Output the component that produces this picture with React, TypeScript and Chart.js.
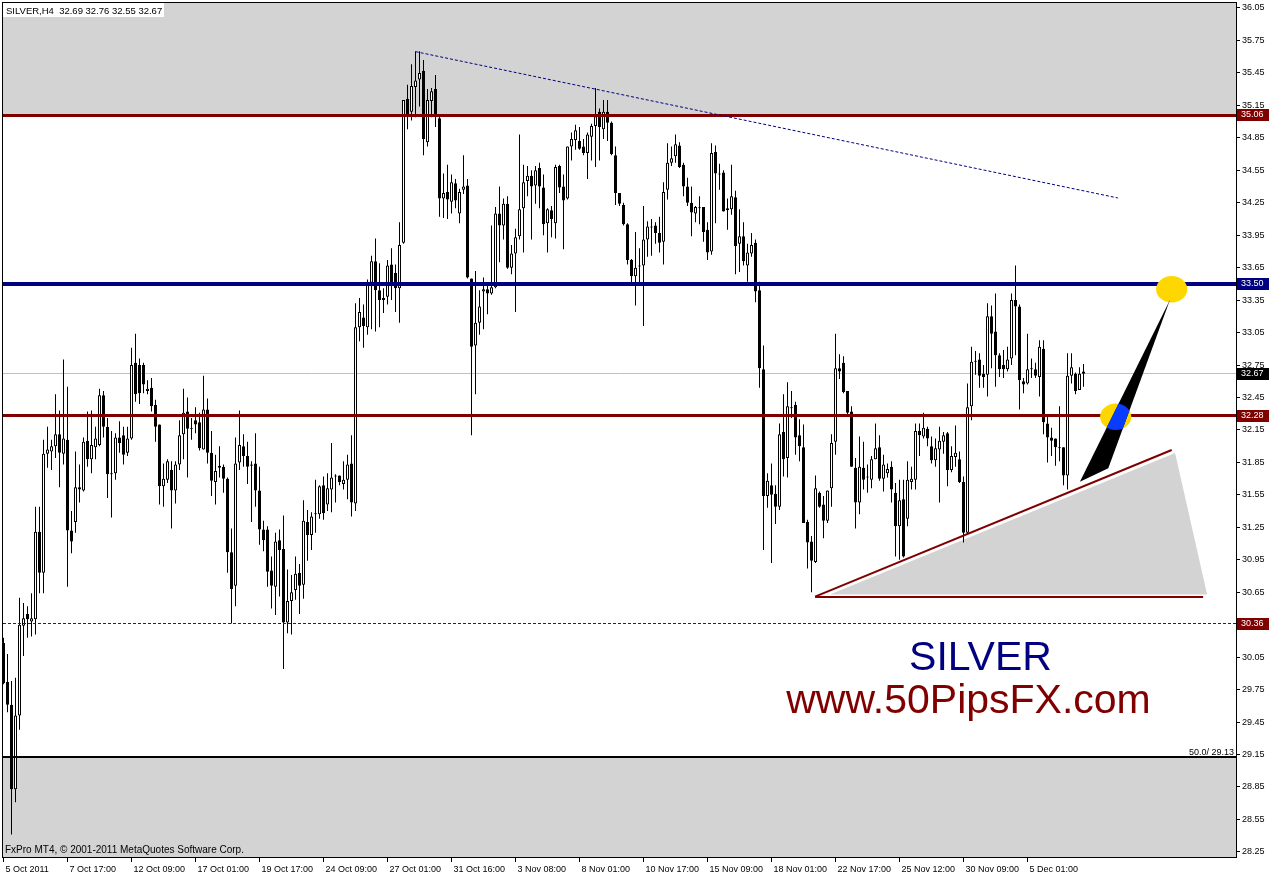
import React, { useEffect, useRef } from 'react';
import { Chart, registerables } from 'chart.js';

Chart.register(...registerables);

// ---- SILVER H4 candles ----
const opens = [
  30.18, 29.82, 29.61, 28.83, 29.51, 30.34, 30.45, 30.38, 30.40, 31.21,
  30.83, 31.93, 31.95, 32.00, 32.11, 31.93, 32.06, 31.22, 31.30, 31.62,
  31.59, 32.05, 31.88, 31.99, 32.01, 32.47, 32.18, 31.74, 31.75, 32.08,
  32.10, 31.94, 32.07, 32.77, 32.75, 32.75, 32.51, 32.54, 32.38, 32.20,
  31.63, 31.69, 31.78, 31.59, 31.83, 32.11, 32.32, 32.17, 32.24, 32.22,
  31.97, 32.34, 31.94, 31.67, 31.80, 31.81, 31.70, 31.02, 30.71, 31.85,
  32.00, 31.91, 31.83, 31.84, 31.59, 31.23, 31.23, 30.85, 30.70, 31.13,
  31.05, 30.37, 30.57, 30.67, 30.83, 30.72, 31.30, 31.18, 31.37, 31.37,
  31.64, 31.46, 31.60, 31.72, 31.73, 31.65, 31.69, 31.84, 31.47, 33.10,
  33.19, 33.10, 33.51, 33.71, 33.44, 33.35, 33.38, 33.68, 33.60, 33.46,
  33.88, 35.21, 35.09, 35.32, 35.39, 35.47, 34.81, 35.19, 35.30, 35.03,
  34.29, 34.35, 34.26, 34.43, 34.15, 34.37, 34.41, 33.55, 32.93, 33.14,
  33.43, 33.45, 33.41, 33.47, 34.15, 34.04, 34.24, 33.65, 33.78, 33.94,
  34.20, 34.45, 34.50, 34.41, 34.57, 34.39, 34.06, 34.18, 34.06, 34.59,
  34.40, 34.29, 34.77, 34.83, 34.82, 34.77, 34.71, 34.86, 34.96, 35.09,
  34.93, 35.09, 34.99, 34.69, 34.34, 34.23, 34.05, 33.72, 33.57, 33.67,
  33.67, 33.91, 34.02, 34.04, 33.97, 33.89, 34.37, 34.62, 34.68, 34.78,
  34.60, 34.40, 34.25, 34.15, 34.20, 34.21, 34.00, 33.80, 34.72, 34.51,
  34.53, 34.18, 34.19, 34.30, 33.87, 33.94, 33.67, 33.78, 33.88, 33.44,
  32.71, 31.54, 31.64, 31.56, 31.44, 32.13, 31.89, 32.35, 32.38, 32.10,
  31.99, 31.30, 31.12, 30.93, 31.57, 31.46, 31.31, 31.61, 32.04, 32.72,
  32.77, 32.51, 32.32, 31.80, 31.48, 31.80, 31.71, 31.69, 31.88, 31.99,
  31.70, 31.75, 31.81, 31.57, 31.26, 31.51, 31.33, 31.67, 31.69, 32.14,
  32.09, 32.16, 32.00, 31.87, 31.97, 32.04, 32.12, 31.78, 31.90, 31.88,
  31.67, 31.20, 32.37, 32.78, 32.80, 32.67, 32.66, 33.20, 33.06, 32.84,
  32.75, 32.71, 32.81, 33.35, 33.29, 32.60, 32.58, 32.71, 32.71, 32.64,
  32.90, 32.21, 32.08, 32.07, 31.98, 31.99, 31.73, 32.65, 32.67, 32.52,
  32.69,
];

const highs = [
  30.23, 30.08, 29.83, 29.86, 30.60, 30.55, 30.52, 30.64, 31.44, 31.44,
  32.06, 32.18, 32.06, 32.48, 32.33, 32.80, 32.55, 31.40, 31.95, 31.83,
  32.08, 32.32, 32.33, 32.18, 32.53, 32.51, 32.26, 32.14, 32.12, 32.23,
  32.18, 32.18, 32.91, 33.04, 32.81, 32.77, 32.61, 32.63, 32.43, 32.20,
  31.84, 31.88, 31.86, 31.86, 32.24, 32.53, 32.45, 32.26, 32.36, 32.31,
  32.65, 32.44, 32.14, 31.92, 32.00, 31.83, 31.71, 31.24, 32.08, 32.33,
  32.11, 32.04, 31.86, 32.12, 31.81, 31.31, 31.26, 30.98, 31.20, 31.23,
  31.36, 30.86, 30.81, 30.98, 30.91, 31.50, 31.41, 31.39, 31.69, 31.64,
  31.72, 31.75, 32.03, 31.74, 31.73, 31.86, 31.92, 32.10, 33.32, 33.37,
  33.31, 33.54, 33.76, 33.92, 33.69, 33.46, 33.72, 33.83, 33.68, 34.07,
  35.20, 35.34, 35.53, 35.65, 35.65, 35.57, 35.30, 35.31, 35.43, 35.07,
  34.52, 34.60, 34.51, 34.47, 34.38, 34.69, 34.47, 33.55, 33.62, 33.44,
  33.56, 33.48, 34.04, 34.21, 34.40, 34.29, 34.31, 33.86, 34.01, 34.88,
  34.60, 34.59, 34.55, 34.59, 34.62, 34.51, 34.20, 34.22, 34.60, 34.60,
  34.51, 34.77, 34.90, 34.97, 34.95, 34.84, 34.90, 34.98, 35.31, 35.12,
  35.20, 35.20, 35.00, 34.77, 34.34, 34.25, 34.06, 33.73, 33.98, 33.83,
  34.22, 34.08, 34.10, 34.07, 34.12, 34.44, 34.80, 34.77, 34.88, 34.81,
  34.62, 34.48, 34.40, 34.22, 34.31, 34.21, 34.07, 34.80, 34.78, 34.61,
  34.55, 34.29, 34.60, 34.36, 34.19, 34.07, 33.87, 33.97, 33.91, 33.52,
  32.93, 31.75, 31.84, 31.64, 32.21, 32.48, 32.59, 32.51, 32.41, 32.25,
  32.20, 31.32, 31.17, 31.73, 31.58, 31.54, 31.59, 32.11, 33.04, 32.85,
  32.83, 32.51, 32.37, 31.89, 32.09, 32.04, 31.83, 31.91, 32.21, 32.10,
  31.92, 31.84, 31.86, 31.66, 31.69, 31.69, 31.86, 31.81, 32.21, 32.21,
  32.31, 32.18, 32.09, 32.07, 32.18, 32.13, 32.13, 32.00, 32.19, 31.95,
  31.72, 32.58, 32.92, 32.88, 32.86, 32.75, 33.32, 33.30, 33.41, 32.86,
  32.89, 32.92, 33.41, 33.67, 33.31, 32.63, 33.04, 32.81, 32.77, 32.98,
  32.98, 32.27, 32.17, 32.07, 32.37, 31.99, 32.86, 32.86, 32.68, 32.73,
  32.76,
];

const lows = [
  29.80, 29.54, 28.41, 28.71, 29.38, 30.06, 30.23, 30.24, 30.26, 30.64,
  30.64, 31.80, 31.78, 31.89, 31.62, 31.83, 30.70, 31.01, 31.20, 31.48,
  31.58, 31.81, 31.75, 31.88, 32.00, 32.08, 31.52, 31.34, 31.69, 31.94,
  31.83, 31.91, 32.06, 32.41, 32.39, 32.49, 32.48, 32.32, 32.04, 31.46,
  31.44, 31.66, 31.24, 31.47, 31.78, 31.88, 31.71, 32.06, 32.12, 31.96,
  31.97, 31.84, 31.54, 31.46, 31.71, 31.57, 30.83, 30.36, 30.52, 31.78,
  31.81, 31.65, 31.30, 31.44, 31.09, 31.03, 30.70, 30.50, 30.44, 30.61,
  29.94, 30.27, 30.26, 30.58, 30.45, 30.59, 30.94, 31.04, 31.20, 31.33,
  31.32, 31.40, 31.39, 31.48, 31.64, 31.60, 31.51, 31.35, 31.40, 32.97,
  32.91, 33.03, 33.08, 33.06, 33.10, 33.23, 33.31, 33.35, 33.24, 33.14,
  33.87, 34.93, 35.01, 35.04, 35.14, 34.69, 34.77, 35.04, 34.95, 34.12,
  34.11, 34.10, 34.15, 34.20, 34.06, 34.33, 33.55, 32.10, 32.48, 33.03,
  33.08, 33.22, 33.40, 33.46, 33.70, 33.91, 33.64, 33.59, 33.24, 33.91,
  33.79, 34.31, 33.91, 34.24, 34.20, 33.95, 33.79, 33.93, 33.92, 34.34,
  33.82, 34.28, 34.64, 34.74, 34.74, 34.69, 34.47, 34.64, 34.58, 34.64,
  34.84, 34.82, 34.69, 34.23, 34.22, 34.04, 33.68, 33.48, 33.30, 33.51,
  33.11, 33.75, 33.76, 33.87, 33.79, 33.68, 34.28, 34.59, 34.62, 34.57,
  34.31, 34.22, 33.94, 34.07, 34.05, 33.89, 33.72, 33.77, 34.06, 34.37,
  34.17, 34.00, 34.14, 33.59, 33.61, 33.67, 33.52, 33.75, 33.33, 32.54,
  31.04, 31.43, 30.92, 31.28, 31.41, 31.72, 31.71, 32.26, 31.92, 31.86,
  31.29, 30.87, 30.65, 30.92, 31.43, 31.15, 31.29, 31.44, 31.92, 32.62,
  32.49, 32.29, 31.81, 31.24, 31.37, 31.60, 31.57, 31.61, 31.88, 31.68,
  31.58, 31.71, 31.48, 30.98, 30.95, 30.97, 31.26, 31.60, 31.60, 31.91,
  32.07, 32.00, 31.84, 31.81, 31.48, 31.93, 31.63, 31.76, 31.81, 31.66,
  31.11, 31.18, 32.24, 32.66, 32.54, 32.54, 32.46, 32.72, 32.55, 32.64,
  32.63, 32.69, 32.75, 32.84, 32.34, 32.49, 32.57, 32.63, 32.63, 32.46,
  32.11, 31.85, 31.91, 31.82, 31.86, 31.64, 31.60, 32.58, 32.48, 32.52,
  32.55,
];

const closes = [
  29.81, 29.61, 28.83, 29.51, 30.35, 30.41, 30.40, 30.41, 31.21, 30.83,
  31.93, 31.97, 32.00, 32.11, 31.94, 32.07, 31.22, 31.12, 31.62, 31.60,
  32.04, 31.88, 32.01, 32.07, 32.47, 32.18, 31.74, 31.75, 32.08, 32.03,
  31.92, 32.07, 32.75, 32.48, 32.49, 32.57, 32.53, 32.37, 32.18, 31.63,
  31.70, 31.86, 31.59, 31.83, 32.10, 32.31, 32.16, 32.16, 32.20, 31.98,
  32.34, 31.94, 31.68, 31.77, 31.82, 31.70, 31.02, 30.68, 31.84, 32.01,
  31.91, 31.81, 31.82, 31.59, 31.23, 31.13, 30.84, 30.71, 31.12, 31.04,
  30.37, 30.57, 30.65, 30.82, 30.71, 31.31, 31.18, 31.35, 31.38, 31.63,
  31.38, 31.61, 31.71, 31.72, 31.67, 31.69, 31.83, 31.48, 33.10, 33.24,
  33.11, 33.51, 33.71, 33.44, 33.35, 33.37, 33.67, 33.50, 33.46, 33.86,
  35.20, 35.07, 35.33, 35.38, 35.45, 34.84, 35.20, 35.28, 35.07, 34.29,
  34.34, 34.28, 34.44, 34.27, 34.35, 34.40, 33.56, 32.92, 33.14, 33.29,
  33.45, 33.41, 33.47, 34.15, 34.04, 34.24, 33.65, 33.78, 33.93, 34.19,
  34.44, 34.50, 34.40, 34.55, 34.40, 34.05, 34.19, 34.10, 34.58, 34.39,
  34.27, 34.77, 34.84, 34.92, 34.75, 34.71, 34.88, 34.96, 35.05, 34.95,
  35.09, 34.99, 34.70, 34.34, 34.24, 34.05, 33.72, 33.57, 33.65, 33.66,
  33.91, 34.03, 34.03, 33.97, 33.88, 34.35, 34.62, 34.66, 34.79, 34.58,
  34.40, 34.25, 34.16, 34.21, 34.20, 33.98, 33.79, 34.71, 34.52, 34.51,
  34.17, 34.20, 34.31, 33.85, 33.94, 33.71, 33.79, 33.86, 33.43, 32.72,
  31.54, 31.68, 31.55, 31.44, 32.11, 31.88, 32.37, 32.35, 32.08, 32.00,
  31.29, 31.11, 30.94, 31.61, 31.44, 31.31, 31.59, 32.03, 32.72, 32.69,
  32.50, 32.31, 31.81, 31.48, 31.81, 31.69, 31.71, 31.88, 31.98, 31.70,
  31.83, 31.79, 31.60, 31.26, 31.50, 30.98, 31.69, 31.70, 32.14, 32.10,
  32.17, 32.07, 31.87, 31.98, 32.05, 32.10, 31.78, 31.91, 31.94, 31.67,
  31.20, 32.36, 32.78, 32.78, 32.65, 32.64, 33.20, 33.04, 32.84, 32.71,
  32.71, 32.80, 33.35, 33.29, 32.61, 32.57, 32.71, 32.72, 32.65, 32.92,
  32.22, 32.08, 32.05, 31.99, 31.99, 31.73, 32.65, 32.73, 32.51, 32.67,
  32.67,
];

// ---- axes ----
const dateTickBars = [0, 16, 32, 48, 64, 80, 96, 112, 128, 144, 160, 176, 192, 208, 224, 240, 256];
const dateTickLabels = [
  '5 Oct 2011', '7 Oct 17:00', '12 Oct 09:00', '17 Oct 01:00', '19 Oct 17:00', '24 Oct 09:00',
  '27 Oct 01:00', '31 Oct 16:00', '3 Nov 08:00', '8 Nov 01:00', '10 Nov 17:00', '15 Nov 09:00',
  '18 Nov 01:00', '22 Nov 17:00', '25 Nov 12:00', '30 Nov 09:00', '5 Dec 01:00',
];
const priceTickLabels = [
  '36.05', '35.75', '35.45', '35.15', '34.85', '34.55', '34.25', '33.95', '33.65',
  '33.35', '33.05', '32.75', '32.45', '32.15', '31.85', '31.55', '31.25', '30.95',
  '30.65', '30.35', '30.05', '29.75', '29.45', '29.15', '28.85', '28.55', '28.25',
];
const priceAxisMin = 28.203;
const priceAxisMax = 36.096;
const barAxisMin = -0.125;
const barAxisMax = 308.125;

// ---- chart objects (bar index, price) ----
const headerText = 'SILVER,H4  32.69 32.76 32.55 32.67';
const copyrightText = 'FxPro MT4, \u00a9 2001-2011 MetaQuotes Software Corp.';
const currentPrice = 32.67;
const upperZonePrice = 35.06;
const lowerZonePrice = 29.13;
const levelPrices = [35.06, 33.5, 32.28, 30.36, 29.13];
const markedPrices = [35.06, 33.5, 32.67, 32.28, 30.36];
const fiboLabel = '50.0/ 29.13';
const resistanceBars = [103.05, 278.6];
const resistancePrices = [35.646, 34.294];
const supportBars = [202.9, 292.05];
const supportPrices = [30.609, 31.965];
const baseBars = [202.9, 299.9];
const basePrice = 30.609;
const shadeBars = [206.6, 292.9, 300.9];
const shadePrices = [30.629, 31.937, 30.629];
const arrowBars = [269.1, 291.6, 276.2];
const arrowPrices = [31.672, 33.351, 31.796];
const targetBars = [292.05, 278.05];
const targetPrices = [33.45, 32.272];
const targetRadiusBars = 3.9;
const targetRadiusPrice = 0.122;
const titleText = 'SILVER';
const titleBar = 244.25;
const titlePrice = 29.932;
const siteText = 'www.50PipsFX.com';
const siteBar = 241.25;
const sitePrice = 29.534;

const FONT = "'Liberation Sans', Arial, sans-serif";
const MAROON = '#800000';
const NAVY = '#000080';

export default function App() {
  const ref = useRef<HTMLCanvasElement>(null);

  useEffect(() => {
    const canvas = ref.current;
    if (!canvas) return;
    const idx = opens.map((_, i) => i);

    const mt4Plugin = {
      id: 'mt4objects',
      beforeDraw(chart: any) {
        const { ctx } = chart;
        ctx.save();
        ctx.fillStyle = '#ffffff';
        ctx.fillRect(0, 0, chart.width, chart.height);
        ctx.restore();
      },
      beforeDatasetsDraw(chart: any) {
        const { ctx, chartArea: a, scales } = chart;
        const xs = scales.x, ys = scales.y;
        ctx.save();
        ctx.beginPath();
        ctx.rect(a.left, a.top, a.right - a.left, a.bottom - a.top);
        ctx.clip();
        ctx.fillStyle = '#d3d3d3';
        const yTop = ys.getPixelForValue(upperZonePrice);
        ctx.fillRect(a.left, a.top, a.right - a.left, yTop - a.top);
        const yBot = ys.getPixelForValue(lowerZonePrice);
        ctx.fillRect(a.left, yBot, a.right - a.left, a.bottom - yBot);
        // shaded triangle
        ctx.beginPath();
        shadeBars.forEach((b, k) => {
          const X = xs.getPixelForValue(b), Y = ys.getPixelForValue(shadePrices[k]);
          if (k === 0) ctx.moveTo(X, Y); else ctx.lineTo(X, Y);
        });
        ctx.closePath();
        ctx.fill();
        // bid line
        const yb = Math.round(ys.getPixelForValue(currentPrice) - 0.5) + 0.5;
        ctx.strokeStyle = '#c0c0c0';
        ctx.lineWidth = 1;
        ctx.beginPath();
        ctx.moveTo(a.left, yb);
        ctx.lineTo(a.right, yb);
        ctx.stroke();
        ctx.restore();
      },
      afterDatasetsDraw(chart: any) {
        const { ctx, chartArea: a, scales } = chart;
        const xs = scales.x, ys = scales.y;
        ctx.save();
        ctx.beginPath();
        ctx.rect(a.left, a.top, a.right - a.left, a.bottom - a.top);
        ctx.clip();
        const styles = [
          { c: MAROON, w: 3, d: [] as number[] },
          { c: NAVY, w: 4, d: [] as number[] },
          { c: MAROON, w: 3, d: [] as number[] },
          { c: MAROON, w: 1, d: [3, 2] },
          { c: '#000000', w: 2, d: [] as number[] },
        ];
        levelPrices.forEach((p, k) => {
          const s = styles[k];
          const raw = ys.getPixelForValue(p);
          const yy = s.w % 2 ? Math.round(raw - 0.5) + 0.5 : Math.round(raw);
          ctx.beginPath();
          ctx.setLineDash(s.d);
          ctx.strokeStyle = s.c;
          ctx.lineWidth = s.w;
          ctx.moveTo(a.left, yy);
          ctx.lineTo(a.right, yy);
          ctx.stroke();
        });
        ctx.setLineDash([]);
        // fibo label
        ctx.fillStyle = '#000';
        ctx.font = `9px ${FONT}`;
        ctx.textAlign = 'right';
        ctx.textBaseline = 'alphabetic';
        ctx.fillText(fiboLabel, a.right - 2, ys.getPixelForValue(lowerZonePrice) - 2);
        // dotted resistance trend
        ctx.beginPath();
        ctx.setLineDash([3, 2]);
        ctx.strokeStyle = NAVY;
        ctx.lineWidth = 1;
        ctx.moveTo(xs.getPixelForValue(resistanceBars[0]), ys.getPixelForValue(resistancePrices[0]));
        ctx.lineTo(xs.getPixelForValue(resistanceBars[1]), ys.getPixelForValue(resistancePrices[1]));
        ctx.stroke();
        ctx.setLineDash([]);
        // support trend + base
        ctx.strokeStyle = MAROON;
        ctx.lineWidth = 2;
        ctx.beginPath();
        ctx.moveTo(xs.getPixelForValue(supportBars[0]), ys.getPixelForValue(supportPrices[0]));
        ctx.lineTo(xs.getPixelForValue(supportBars[1]), ys.getPixelForValue(supportPrices[1]));
        ctx.stroke();
        const by = Math.round(ys.getPixelForValue(basePrice));
        ctx.beginPath();
        ctx.moveTo(xs.getPixelForValue(baseBars[0]), by);
        ctx.lineTo(xs.getPixelForValue(baseBars[1]), by);
        ctx.stroke();
        // target ellipses
        const ellipse = (k: number) => {
          const cx = xs.getPixelForValue(targetBars[k]);
          const cy = ys.getPixelForValue(targetPrices[k]);
          const rx = Math.abs(xs.getPixelForValue(targetBars[k] + targetRadiusBars) - cx);
          const ry = Math.abs(ys.getPixelForValue(targetPrices[k] + targetRadiusPrice) - cy);
          ctx.beginPath();
          ctx.ellipse(cx, cy, rx, ry, 0, 0, Math.PI * 2);
        };
        ctx.fillStyle = '#ffd700';
        targetBars.forEach((_, k) => { ellipse(k); ctx.fill(); });
        // arrow wedge
        const wedge = () => {
          ctx.beginPath();
          arrowBars.forEach((b, k) => {
            const X = xs.getPixelForValue(b), Y = ys.getPixelForValue(arrowPrices[k]);
            if (k === 0) ctx.moveTo(X, Y); else ctx.lineTo(X, Y);
          });
          ctx.closePath();
        };
        ctx.fillStyle = '#000';
        wedge();
        ctx.fill();
        targetBars.forEach((_, k) => {
          ctx.save();
          ellipse(k);
          ctx.clip();
          wedge();
          ctx.fillStyle = '#0a3cff';
          ctx.fill();
          ctx.restore();
        });
        // texts
        ctx.textAlign = 'center';
        ctx.textBaseline = 'alphabetic';
        ctx.font = `41px ${FONT}`;
        ctx.fillStyle = NAVY;
        ctx.fillText(titleText, xs.getPixelForValue(titleBar), ys.getPixelForValue(titlePrice));
        ctx.fillStyle = MAROON;
        ctx.fillText(siteText, xs.getPixelForValue(siteBar), ys.getPixelForValue(sitePrice));
        // copyright
        ctx.textAlign = 'left';
        ctx.fillStyle = '#000';
        ctx.font = `10px ${FONT}`;
        ctx.fillText(copyrightText, a.left + 2, a.bottom - 4);
        ctx.restore();
      },
      afterDraw(chart: any) {
        const { ctx, chartArea: a, scales } = chart;
        const ys = scales.y;
        ctx.save();
        // price marks on axis
        const colors = [MAROON, NAVY, '#000000', MAROON, MAROON];
        ctx.font = `9px ${FONT}`;
        ctx.textAlign = 'left';
        ctx.textBaseline = 'middle';
        markedPrices.forEach((p, k) => {
          const yy = Math.round(ys.getPixelForValue(p));
          ctx.fillStyle = colors[k];
          ctx.fillRect(a.right + 1, yy - 6, 32, 12);
          ctx.fillStyle = '#fff';
          ctx.fillText(p.toFixed(2), a.right + 5, yy);
        });
        // frame
        ctx.strokeStyle = '#000';
        ctx.lineWidth = 1;
        ctx.strokeRect(a.left - 0.5, a.top - 0.5, a.right - a.left + 1, a.bottom - a.top + 1);
        // header
        ctx.fillStyle = '#fff';
        ctx.fillRect(a.left, a.top, 161, 14);
        ctx.fillStyle = '#000';
        ctx.font = `9.5px ${FONT}`;
        ctx.textBaseline = 'alphabetic';
        ctx.fillText(headerText, a.left + 3, a.top + 11);
        ctx.restore();
      },
    };

    const chart = new Chart(canvas, {
      type: 'bar',
      data: {
        datasets: [
          {
            label: 'body',
            data: idx.map((i) => ({ x: i, y: [opens[i], closes[i]] })),
            backgroundColor: idx.map((i) => (closes[i] >= opens[i] ? '#ffffff' : '#000000')),
            borderColor: '#000000',
            borderWidth: 1,
            borderSkipped: false,
            barThickness: 3,
            minBarLength: 1,
            grouped: false,
            inflateAmount: 0,
            order: 0,
          } as any,
          {
            label: 'wick',
            data: idx.map((i) => ({ x: i, y: [lows[i], highs[i]] })),
            backgroundColor: '#000000',
            borderWidth: 0,
            barThickness: 1,
            grouped: false,
            inflateAmount: 0,
            order: 1,
          } as any,
        ],
      },
      options: {
        responsive: false,
        animation: false,
        events: [],
        devicePixelRatio: 1,
        layout: { padding: { left: 3, top: 3, right: 0, bottom: 0 } },
        plugins: { legend: { display: false }, tooltip: { enabled: false } },
        scales: {
          x: {
            type: 'linear',
            min: barAxisMin,
            max: barAxisMax,
            offset: false,
            grid: { display: true, drawOnChartArea: false, drawTicks: true, tickLength: 5, color: '#000', offset: false },
            border: { display: false },
            ticks: {
              autoSkip: false,
              maxRotation: 0,
              minRotation: 0,
              align: 'start',
              labelOffset: 2,
              padding: 2,
              color: '#000',
              font: { family: FONT, size: 9 },
              callback: (_v: any, i: number) => dateTickLabels[i] ?? '',
            },
            afterBuildTicks: (s: any) => {
              s.ticks = dateTickBars.map((v) => ({ value: v }));
            },
            afterFit: (s: any) => {
              s.height = 18;
              s.paddingLeft = 0; s.paddingRight = 0; s.paddingTop = 0; s.paddingBottom = 0;
            },
          } as any,
          y: {
            type: 'linear',
            position: 'right',
            min: priceAxisMin,
            max: priceAxisMax,
            grid: { display: true, drawOnChartArea: false, drawTicks: true, tickLength: 4, color: '#000' },
            border: { display: false },
            ticks: {
              autoSkip: false,
              padding: 2,
              color: '#000',
              font: { family: FONT, size: 9 },
              callback: (_v: any, i: number) => priceTickLabels[i] ?? '',
            },
            afterBuildTicks: (s: any) => {
              s.ticks = priceTickLabels.map((t) => ({ value: parseFloat(t) }));
            },
            afterFit: (s: any) => {
              s.width = 38;
              s.paddingLeft = 0; s.paddingRight = 0; s.paddingTop = 0; s.paddingBottom = 0;
            },
          } as any,
        },
      },
      plugins: [mt4Plugin],
    });

    return () => chart.destroy();
  }, []);

  return (
    <div style={{ position: 'fixed', left: 0, top: 0, width: 1274, height: 875, background: '#fff' }}>
      <canvas ref={ref} width={1274} height={875} style={{ display: 'block', width: 1274, height: 875 }} />
    </div>
  );
}
